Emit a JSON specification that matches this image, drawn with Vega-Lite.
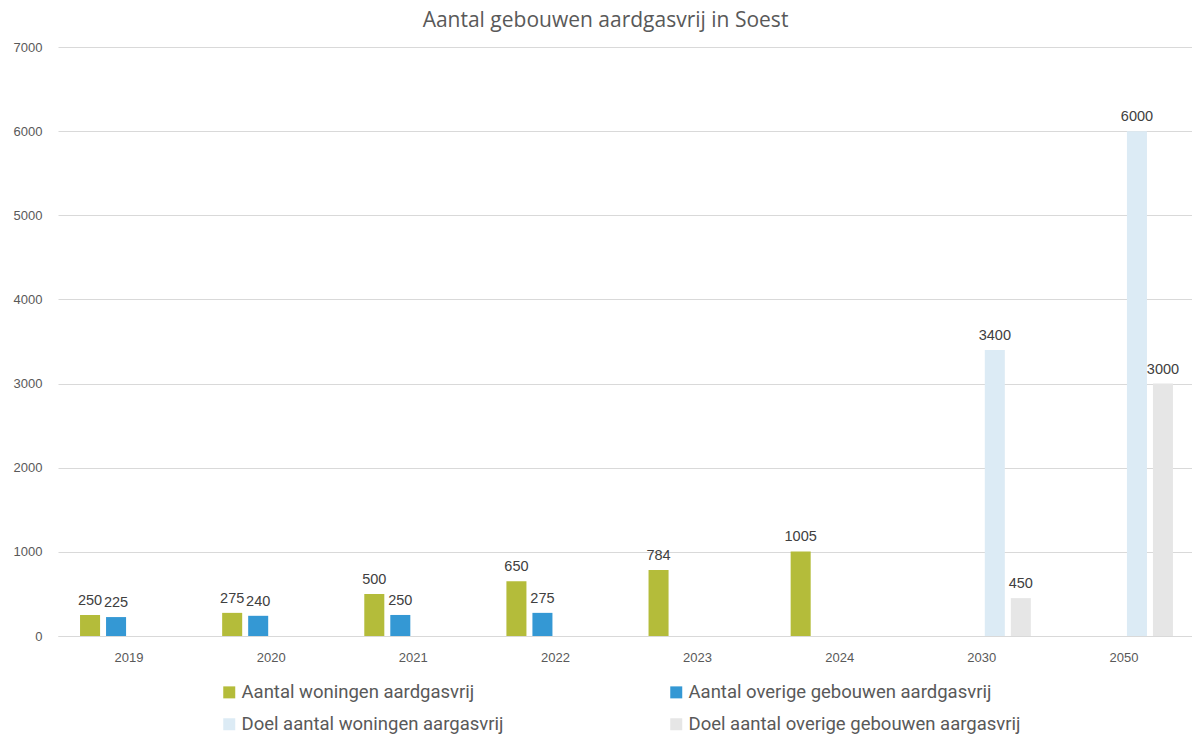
{
  "$schema": "https://vega.github.io/schema/vega-lite/v6.json",
  "autosize": {"type": "none"},
  "width": 1137,
  "height": 589,
  "padding": {"left": 58, "top": 47, "right": 0, "bottom": 102},
  "background": "white",
  "title": {
    "text": "Aantal gebouwen aardgasvrij in Soest",
    "font": "Open Sans",
    "fontSize": 21,
    "fontWeight": "normal",
    "color": "#595959",
    "anchor": "middle",
    "dx": -21,
    "offset": 10
  },
  "data": {
    "values": [
      {"jaar": "2019", "reeks": "Aantal woningen aardgasvrij", "aantal": 250},
      {"jaar": "2019", "reeks": "Aantal overige gebouwen aardgasvrij", "aantal": 225},
      {"jaar": "2020", "reeks": "Aantal woningen aardgasvrij", "aantal": 275},
      {"jaar": "2020", "reeks": "Aantal overige gebouwen aardgasvrij", "aantal": 240},
      {"jaar": "2021", "reeks": "Aantal woningen aardgasvrij", "aantal": 500},
      {"jaar": "2021", "reeks": "Aantal overige gebouwen aardgasvrij", "aantal": 250},
      {"jaar": "2022", "reeks": "Aantal woningen aardgasvrij", "aantal": 650},
      {"jaar": "2022", "reeks": "Aantal overige gebouwen aardgasvrij", "aantal": 275},
      {"jaar": "2023", "reeks": "Aantal woningen aardgasvrij", "aantal": 784},
      {"jaar": "2024", "reeks": "Aantal woningen aardgasvrij", "aantal": 1005},
      {"jaar": "2030", "reeks": "Doel aantal woningen aargasvrij", "aantal": 3400},
      {"jaar": "2030", "reeks": "Doel aantal overige gebouwen aargasvrij", "aantal": 450},
      {"jaar": "2050", "reeks": "Doel aantal woningen aargasvrij", "aantal": 6000},
      {"jaar": "2050", "reeks": "Doel aantal overige gebouwen aargasvrij", "aantal": 3000}
    ]
  },
  "encoding": {
    "x": {
      "field": "jaar",
      "type": "nominal",
      "scale": {
        "domain": ["2019", "2020", "2021", "2022", "2023", "2024", "2030", "2050"],
        "paddingInner": 0.268,
        "paddingOuter": 0.134
      },
      "axis": {
        "title": null,
        "labelAngle": 0,
        "labelFont": "Liberation Sans",
        "labelFontSize": 13,
        "labelColor": "#595959",
        "labelPadding": 15,
        "ticks": false,
        "domain": true,
        "domainColor": "#d9d9d9",
        "grid": false
      }
    },
    "xOffset": {
      "field": "reeks",
      "type": "nominal",
      "scale": {
        "domain": [
          "Aantal woningen aardgasvrij",
          "Aantal overige gebouwen aardgasvrij",
          "Doel aantal woningen aargasvrij",
          "Doel aantal overige gebouwen aargasvrij"
        ],
        "paddingInner": 0.23,
        "paddingOuter": 0.115
      }
    },
    "y": {
      "field": "aantal",
      "type": "quantitative",
      "scale": {"domain": [0, 7000], "nice": false},
      "axis": {
        "title": null,
        "values": [0, 1000, 2000, 3000, 4000, 5000, 6000, 7000],
        "format": "d",
        "labelFont": "Liberation Sans",
        "labelFontSize": 13,
        "labelColor": "#595959",
        "labelPadding": 16,
        "ticks": false,
        "domain": false,
        "grid": true,
        "gridColor": "#d9d9d9",
        "gridWidth": 1
      }
    }
  },
  "layer": [
    {
      "mark": {"type": "bar"},
      "encoding": {
        "color": {
          "field": "reeks",
          "type": "nominal",
          "scale": {
            "domain": [
              "Aantal woningen aardgasvrij",
              "Aantal overige gebouwen aardgasvrij",
              "Doel aantal woningen aargasvrij",
              "Doel aantal overige gebouwen aargasvrij"
            ],
            "range": ["#B4BC3A", "#3498D4", "#DCEBF5", "#E6E6E6"]
          },
          "legend": {
            "title": null,
            "orient": "none",
            "direction": "horizontal",
            "legendX": 162,
            "legendY": 636,
            "columns": 2,
            "columnPadding": 163,
            "rowPadding": 13,
            "symbolType": "square",
            "symbolSize": 144,
            "symbolStrokeWidth": 0,
            "labelFont": "Roboto",
            "labelFontSize": 18.5,
            "labelColor": "#595959",
            "labelOffset": 3,
            "labelLimit": 400,
            "padding": 0
          }
        }
      }
    },
    {
      "mark": {
        "type": "text",
        "baseline": "bottom",
        "dy": -7,
        "font": "Liberation Sans",
        "fontSize": 14.5,
        "color": "#404040"
      },
      "encoding": {
        "text": {"field": "aantal", "type": "quantitative", "format": "d"}
      }
    }
  ],
  "config": {
    "view": {"stroke": null}
  }
}
